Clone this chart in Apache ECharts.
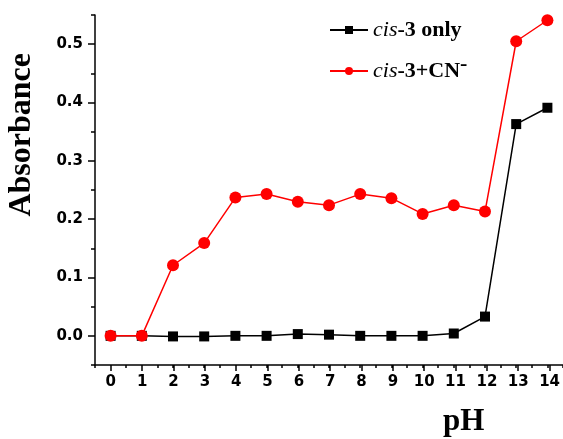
<!DOCTYPE html>
<html><head><meta charset="utf-8">
<script src="https://cdn.jsdelivr.net/npm/echarts@6/dist/echarts.min.js"></script>
<style>html,body{margin:0;padding:0;background:#fff}#c{width:563px;height:439px}</style>
</head><body><div id="c"></div>
<script>
const pH = [0,1,2,3,4,5,6,7,8,9,10,11,12,13,14];
const cisOnly = [0.000,0.000,-0.001,-0.001,0.000,0.000,0.003,0.002,0.000,0.000,0.000,0.004,0.033,0.363,0.391];
const cisCN = [0.000,0.000,0.121,0.159,0.237,0.243,0.230,0.224,0.243,0.236,0.209,0.224,0.213,0.505,0.541];
const yTickLabels = ['0.0','0.1','0.2','0.3','0.4','0.5'];
const xTickLabels = ['0','1','2','3','4','5','6','7','8','9','10','11','12','13','14'];

// outer grid: full axis range (-0.5..14.5, -0.05..0.55) -> minor ticks
const G = {left:95, top:15, right:-7, bottom:74};
const W = 563 - G.left - G.right, H = 439 - G.top - G.bottom;
const dx = W/30, dy = H/12; // half unit x, 0.05 y
const G2 = {left:G.left+dx, right:G.right+dx, top:G.top+dy, bottom:G.bottom+dy};

const chart = echarts.init(document.getElementById('c'), null, {renderer:'canvas'});
const tickFont = {fontFamily:'DejaVu Sans', fontWeight:'bold', fontSize:15, color:'#000'};
const blk = {color:'#000', width:1.5};
chart.setOption({
  animation:false,
  grid:[G, G2],
  xAxis:[
    {type:'value', gridIndex:0, min:-0.5, max:14.5, interval:0.5,
      axisLine:{show:true, onZero:false, lineStyle:blk},
      axisTick:{show:true, length:3, lineStyle:blk},
      splitLine:{show:false}, axisLabel:{show:false}},
    {type:'value', gridIndex:1, min:0, max:14, interval:1, offset:dy, position:'bottom',
      axisLine:{show:false, onZero:false},
      axisTick:{show:true, length:6, lineStyle:blk},
      splitLine:{show:false},
      axisLabel:{...tickFont, margin:10, formatter:(v)=>xTickLabels[Math.round(v)] ?? ''}}
  ],
  yAxis:[
    {type:'value', gridIndex:0, min:-0.05, max:0.55, interval:0.05,
      axisLine:{show:true, onZero:false, lineStyle:blk},
      axisTick:{show:true, length:4, lineStyle:blk},
      splitLine:{show:false}, axisLabel:{show:false}},
    {type:'value', gridIndex:1, min:0, max:0.5, interval:0.1, offset:dx, position:'left',
      axisLine:{show:false, onZero:false},
      axisTick:{show:true, length:7, lineStyle:blk},
      splitLine:{show:false},
      axisLabel:{...tickFont, margin:12, formatter:(v)=>yTickLabels[Math.round(v*10)] ?? ''}}
  ],
  legend:{orient:'vertical', left:324, top:14, itemGap:12, itemWidth:38, itemHeight:10,
    data:['cis-3 only','cis-3+CN-'],
    formatter:n=> n==='cis-3 only' ? '{i|cis}{b|-3 only}' : '{i|cis}{b|-3+CN}{s|-}',
    textStyle:{color:'#000', rich:{
      i:{fontFamily:'Liberation Serif', fontStyle:'italic', fontSize:22, color:'#000'},
      b:{fontFamily:'Liberation Serif', fontWeight:'bold', fontSize:22, color:'#000'},
      s:{fontFamily:'Liberation Serif', fontWeight:'bold', fontSize:22, color:'#000', padding:[0,0,14,0]}
    }}
  },
  series:[
    {name:'cis-3 only', type:'line', xAxisIndex:0, yAxisIndex:0, data:pH.map((x,i)=>[x,cisOnly[i]]),
      symbol:'rect', symbolSize:10, itemStyle:{color:'#000'}, lineStyle:{color:'#000', width:1.5}, z:2},
    {name:'cis-3+CN-', type:'line', xAxisIndex:0, yAxisIndex:0, data:pH.map((x,i)=>[x,cisCN[i]]),
      symbol:'circle', symbolSize:12, itemStyle:{color:'#ff0000'}, lineStyle:{color:'#ff0000', width:1.5}, z:3}
  ],
  graphic:[
    {type:'text', left:6, top:53, rotation:Math.PI/2, style:{text:'Absorbance', font:'bold 32px "Liberation Serif"', fill:'#000'}},
    {type:'text', left:443, top:406, style:{text:'pH', font:'bold 31px "Liberation Serif"', fill:'#000'}}
  ]
});
</script></body></html>
